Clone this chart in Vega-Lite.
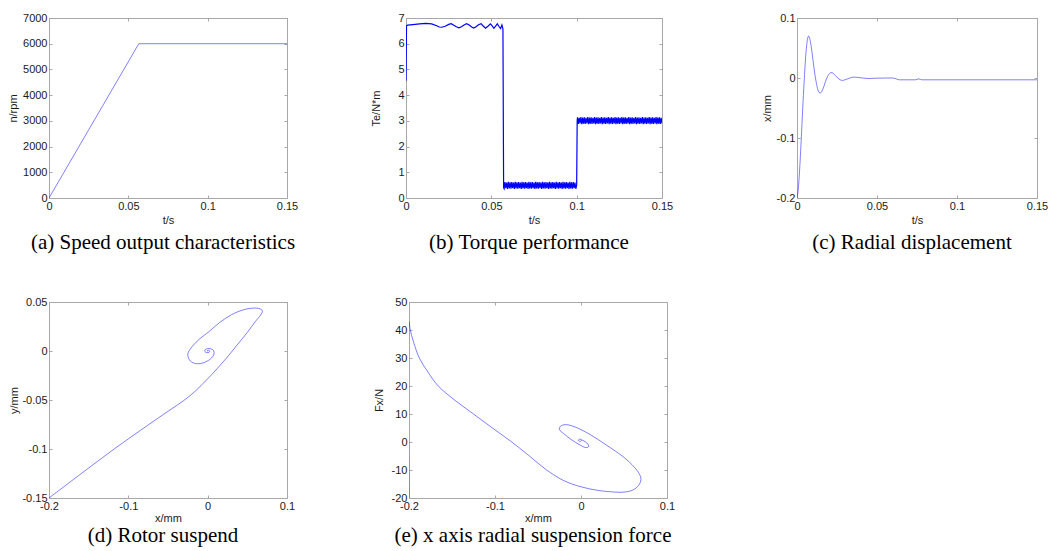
{
"$schema": "https://vega.github.io/schema/vega-lite/v6.json",
"autosize": {"type": "pad"},
"padding": {"left": 6, "top": 11, "right": 5, "bottom": 5},
"background": "white",
"config": {
  "view": {"stroke": "#a8a8a8", "strokeWidth": 1},
  "axis": {"grid": false, "domain": false, "tickColor": "#a8a8a8", "tickSize": -3, "tickWidth": 1, "labelFont": "Liberation Sans", "labelFontSize": 11, "labelColor": "#1a1a1a", "labelPadding": 5, "labelFlush": false, "labelOverlap": false, "labelBound": false, "titleFont": "Liberation Sans", "titleFontSize": 11, "titleFontWeight": "normal", "titleColor": "#1a1a1a"},
  "title": {"font": "Liberation Serif", "fontSize": 21, "fontWeight": "normal", "color": "#000000", "orient": "bottom", "frame": "group", "anchor": "middle", "baseline": "alphabetic", "dx": -5}
},
"datasets": {
  "a": [{"t":0,"n":0},{"t":0.0566,"n":6000},{"t":0.15,"n":6000}],
  "b": [{"t":0,"v":4.56},{"t":0.0003,"v":6.7},{"t":0.001,"v":6.72},{"t":0.004,"v":6.74},{"t":0.008,"v":6.77},{"t":0.0115,"v":6.79},{"t":0.015,"v":6.77},{"t":0.018,"v":6.7},{"t":0.0195,"v":6.65},{"t":0.021,"v":6.64},{"t":0.023,"v":6.68},{"t":0.025,"v":6.75},{"t":0.0265,"v":6.78},{"t":0.028,"v":6.72},{"t":0.0295,"v":6.66},{"t":0.031,"v":6.62},{"t":0.0325,"v":6.66},{"t":0.034,"v":6.73},{"t":0.0355,"v":6.78},{"t":0.037,"v":6.73},{"t":0.0385,"v":6.65},{"t":0.0397,"v":6.61},{"t":0.041,"v":6.66},{"t":0.0425,"v":6.74},{"t":0.044,"v":6.78},{"t":0.0452,"v":6.69},{"t":0.0466,"v":6.6},{"t":0.048,"v":6.68},{"t":0.0495,"v":6.77},{"t":0.0505,"v":6.69},{"t":0.0515,"v":6.6},{"t":0.0525,"v":6.68},{"t":0.0535,"v":6.77},{"t":0.0545,"v":6.67},{"t":0.0554,"v":6.59},{"t":0.0562,"v":6.73},{"t":0.0568,"v":6.58},{"t":0.0572,"v":0.4},
    {"t":0.0575,"v":0.36},{"t":0.058,"v":0.62},{"t":0.0585,"v":0.38},{"t":0.059,"v":0.6},{"t":0.0595,"v":0.35},{"t":0.06,"v":0.63},{"t":0.0605,"v":0.37},{"t":0.061,"v":0.61},{"t":0.0615,"v":0.36},{"t":0.062,"v":0.62},{"t":0.0625,"v":0.38},{"t":0.063,"v":0.6},{"t":0.0635,"v":0.35},{"t":0.064,"v":0.63},{"t":0.0645,"v":0.37},{"t":0.065,"v":0.61},{"t":0.0655,"v":0.36},{"t":0.066,"v":0.62},{"t":0.0665,"v":0.38},{"t":0.067,"v":0.6},{"t":0.0675,"v":0.35},{"t":0.068,"v":0.63},{"t":0.0685,"v":0.37},{"t":0.069,"v":0.61},{"t":0.0695,"v":0.36},{"t":0.07,"v":0.62},{"t":0.0705,"v":0.38},{"t":0.071,"v":0.6},{"t":0.0715,"v":0.35},{"t":0.072,"v":0.63},{"t":0.0725,"v":0.37},{"t":0.073,"v":0.61},{"t":0.0735,"v":0.36},{"t":0.074,"v":0.62},{"t":0.0745,"v":0.38},{"t":0.075,"v":0.6},{"t":0.0755,"v":0.35},{"t":0.076,"v":0.63},{"t":0.0765,"v":0.37},{"t":0.077,"v":0.61},{"t":0.0775,"v":0.36},{"t":0.078,"v":0.62},{"t":0.0785,"v":0.38},{"t":0.079,"v":0.6},{"t":0.0795,"v":0.35},{"t":0.08,"v":0.63},{"t":0.0805,"v":0.37},{"t":0.081,"v":0.61},{"t":0.0815,"v":0.36},{"t":0.082,"v":0.62},{"t":0.0825,"v":0.38},{"t":0.083,"v":0.6},{"t":0.0835,"v":0.35},{"t":0.084,"v":0.63},{"t":0.0845,"v":0.37},{"t":0.085,"v":0.61},{"t":0.0855,"v":0.36},{"t":0.086,"v":0.62},{"t":0.0865,"v":0.38},{"t":0.087,"v":0.6},{"t":0.0875,"v":0.35},{"t":0.088,"v":0.63},{"t":0.0885,"v":0.37},{"t":0.089,"v":0.61},{"t":0.0895,"v":0.36},{"t":0.09,"v":0.62},{"t":0.0905,"v":0.38},{"t":0.091,"v":0.6},{"t":0.0915,"v":0.35},{"t":0.092,"v":0.63},{"t":0.0925,"v":0.37},{"t":0.093,"v":0.61},{"t":0.0935,"v":0.36},{"t":0.094,"v":0.62},{"t":0.0945,"v":0.38},{"t":0.095,"v":0.6},{"t":0.0955,"v":0.35},{"t":0.096,"v":0.63},{"t":0.0965,"v":0.37},{"t":0.097,"v":0.61},{"t":0.0975,"v":0.36},{"t":0.098,"v":0.62},{"t":0.0985,"v":0.38},{"t":0.099,"v":0.6},{"t":0.0995,"v":0.36},{"t":0.1,"v":0.5},{"t":0.1003,"v":3.0},
    {"t":0.1005,"v":3.14},{"t":0.101,"v":2.88},{"t":0.1015,"v":3.12},{"t":0.102,"v":2.9},{"t":0.1025,"v":3.15},{"t":0.103,"v":2.87},{"t":0.1035,"v":3.13},{"t":0.104,"v":2.89},{"t":0.1045,"v":3.14},{"t":0.105,"v":2.88},{"t":0.1055,"v":3.12},{"t":0.106,"v":2.9},{"t":0.1065,"v":3.15},{"t":0.107,"v":2.87},{"t":0.1075,"v":3.13},{"t":0.108,"v":2.89},{"t":0.1085,"v":3.14},{"t":0.109,"v":2.88},{"t":0.1095,"v":3.12},{"t":0.11,"v":2.9},{"t":0.1105,"v":3.15},{"t":0.111,"v":2.87},{"t":0.1115,"v":3.13},{"t":0.112,"v":2.89},{"t":0.1125,"v":3.14},{"t":0.113,"v":2.88},{"t":0.1135,"v":3.12},{"t":0.114,"v":2.9},{"t":0.1145,"v":3.15},{"t":0.115,"v":2.87},{"t":0.1155,"v":3.13},{"t":0.116,"v":2.89},{"t":0.1165,"v":3.14},{"t":0.117,"v":2.88},{"t":0.1175,"v":3.12},{"t":0.118,"v":2.9},{"t":0.1185,"v":3.15},{"t":0.119,"v":2.87},{"t":0.1195,"v":3.13},{"t":0.12,"v":2.89},{"t":0.1205,"v":3.14},{"t":0.121,"v":2.88},{"t":0.1215,"v":3.12},{"t":0.122,"v":2.9},{"t":0.1225,"v":3.15},{"t":0.123,"v":2.87},{"t":0.1235,"v":3.13},{"t":0.124,"v":2.89},{"t":0.1245,"v":3.14},{"t":0.125,"v":2.88},{"t":0.1255,"v":3.12},{"t":0.126,"v":2.9},{"t":0.1265,"v":3.15},{"t":0.127,"v":2.87},{"t":0.1275,"v":3.13},{"t":0.128,"v":2.89},{"t":0.1285,"v":3.14},{"t":0.129,"v":2.88},{"t":0.1295,"v":3.12},{"t":0.13,"v":2.9},{"t":0.1305,"v":3.15},{"t":0.131,"v":2.87},{"t":0.1315,"v":3.13},{"t":0.132,"v":2.89},{"t":0.1325,"v":3.14},{"t":0.133,"v":2.88},{"t":0.1335,"v":3.12},{"t":0.134,"v":2.9},{"t":0.1345,"v":3.15},{"t":0.135,"v":2.87},{"t":0.1355,"v":3.13},{"t":0.136,"v":2.89},{"t":0.1365,"v":3.14},{"t":0.137,"v":2.88},{"t":0.1375,"v":3.12},{"t":0.138,"v":2.9},{"t":0.1385,"v":3.15},{"t":0.139,"v":2.87},{"t":0.1395,"v":3.13},{"t":0.14,"v":2.89},{"t":0.1405,"v":3.14},{"t":0.141,"v":2.88},{"t":0.1415,"v":3.12},{"t":0.142,"v":2.9},{"t":0.1425,"v":3.15},{"t":0.143,"v":2.87},{"t":0.1435,"v":3.13},{"t":0.144,"v":2.89},{"t":0.1445,"v":3.14},{"t":0.145,"v":2.88},{"t":0.1455,"v":3.12},{"t":0.146,"v":2.9},{"t":0.1465,"v":3.15},{"t":0.147,"v":2.87},{"t":0.1475,"v":3.13},{"t":0.148,"v":2.89},{"t":0.1485,"v":3.14},{"t":0.149,"v":2.88},{"t":0.1495,"v":3.12},{"t":0.15,"v":2.9}],
  "c": [{"t":0,"x":-0.2},{"t":0.0008,"x":-0.185},{"t":0.0016,"x":-0.155},{"t":0.0025,"x":-0.11},{"t":0.0035,"x":-0.055},{"t":0.0045,"x":-0.005},{"t":0.0054,"x":0.035},{"t":0.0062,"x":0.058},{"t":0.0068,"x":0.068},{"t":0.0073,"x":0.07},{"t":0.0079,"x":0.066},{"t":0.0088,"x":0.054},{"t":0.0098,"x":0.034},{"t":0.0108,"x":0.013},{"t":0.0118,"x":-0.004},{"t":0.0128,"x":-0.017},{"t":0.0138,"x":-0.024},{"t":0.0146,"x":-0.025},{"t":0.0156,"x":-0.022},{"t":0.0168,"x":-0.014},{"t":0.0178,"x":-0.006},{"t":0.0188,"x":0.001},{"t":0.0199,"x":0.006},{"t":0.0213,"x":0.009},{"t":0.0225,"x":0.008},{"t":0.024,"x":0.004},{"t":0.0255,"x":0.0},{"t":0.027,"x":-0.003},{"t":0.0283,"x":-0.004},{"t":0.03,"x":-0.003},{"t":0.032,"x":-0.001},{"t":0.034,"x":0.0008},{"t":0.036,"x":0.0015},{"t":0.038,"x":0.001},{"t":0.041,"x":0.0},{"t":0.045,"x":-0.0008},{"t":0.05,"x":-0.0003},{"t":0.056,"x":0.0},{"t":0.06,"x":0.0},{"t":0.062,"x":-0.0015},{"t":0.064,"x":-0.003},{"t":0.07,"x":-0.003},{"t":0.074,"x":-0.003},{"t":0.076,"x":-0.0015},{"t":0.078,"x":-0.003},{"t":0.09,"x":-0.003},{"t":0.15,"x":-0.003}],
  "d": [{"i":0,"x":-0.2,"y":-0.15},{"i":1,"x":-0.16,"y":-0.1255},{"i":2,"x":-0.117,"y":-0.0995},{"i":3,"x":-0.075,"y":-0.0755},{"i":4,"x":-0.05,"y":-0.0615},{"i":5,"x":-0.03,"y":-0.0505},{"i":6,"x":-0.015,"y":-0.0405},{"i":7,"x":-0.002,"y":-0.03},{"i":8,"x":0.012,"y":-0.018},{"i":9,"x":0.025,"y":-0.006},{"i":10,"x":0.038,"y":0.007},{"i":11,"x":0.05,"y":0.019},{"i":12,"x":0.06,"y":0.03},{"i":13,"x":0.067,"y":0.037},{"i":14,"x":0.069,"y":0.041},{"i":15,"x":0.066,"y":0.043},{"i":16,"x":0.058,"y":0.0438},{"i":17,"x":0.045,"y":0.042},{"i":18,"x":0.03,"y":0.037},{"i":19,"x":0.015,"y":0.029},{"i":20,"x":0.002,"y":0.02},{"i":21,"x":-0.012,"y":0.011},{"i":22,"x":-0.021,"y":0.003},{"i":23,"x":-0.025,"y":-0.003},{"i":24,"x":-0.023,"y":-0.009},{"i":25,"x":-0.017,"y":-0.0125},{"i":26,"x":-0.009,"y":-0.0128},{"i":27,"x":-0.001,"y":-0.0105},{"i":28,"x":0.005,"y":-0.007},{"i":29,"x":0.008,"y":-0.003},{"i":30,"x":0.0075,"y":0.0005},{"i":31,"x":0.004,"y":0.0022},{"i":32,"x":0.0,"y":0.0025},{"i":33,"x":-0.003,"y":0.0015},{"i":34,"x":-0.0035,"y":-0.0005},{"i":35,"x":-0.001,"y":-0.0017},{"i":36,"x":0.002,"y":-0.0012},{"i":37,"x":0.0025,"y":0.0002},{"i":38,"x":0.0008,"y":0.0008},{"i":39,"x":-0.0008,"y":0.0002},{"i":40,"x":0.0,"y":-0.0002}],
  "e": [{"i":0,"x":-0.2,"f":-20},{"i":1,"x":-0.2,"f":43},{"i":2,"x":-0.1985,"f":40},{"i":3,"x":-0.195,"f":36},{"i":4,"x":-0.188,"f":30},{"i":5,"x":-0.178,"f":25},{"i":6,"x":-0.166,"f":20},{"i":7,"x":-0.147,"f":15},{"i":8,"x":-0.125,"f":10},{"i":9,"x":-0.103,"f":5},{"i":10,"x":-0.0805,"f":0},{"i":11,"x":-0.06,"f":-5},{"i":12,"x":-0.04,"f":-10},{"i":13,"x":-0.02,"f":-13.8},{"i":14,"x":0.0,"f":-16},{"i":15,"x":0.02,"f":-17.3},{"i":16,"x":0.04,"f":-17.9},{"i":17,"x":0.05,"f":-17.9},{"i":18,"x":0.06,"f":-17.2},{"i":19,"x":0.067,"f":-15.5},{"i":20,"x":0.0697,"f":-13.4},{"i":21,"x":0.068,"f":-11.5},{"i":22,"x":0.062,"f":-9},{"i":23,"x":0.05,"f":-5.5},{"i":24,"x":0.03,"f":-1.2},{"i":25,"x":0.011,"f":2.6},{"i":26,"x":-0.008,"f":5.5},{"i":27,"x":-0.018,"f":6.2},{"i":28,"x":-0.024,"f":5.6},{"i":29,"x":-0.025,"f":4.4},{"i":30,"x":-0.02,"f":3},{"i":31,"x":-0.012,"f":1},{"i":32,"x":-0.001,"f":-1.1},{"i":33,"x":0.006,"f":-2},{"i":34,"x":0.009,"f":-1.6},{"i":35,"x":0.007,"f":-0.4},{"i":36,"x":0.002,"f":0.6},{"i":37,"x":-0.002,"f":1},{"i":38,"x":-0.003,"f":0.6},{"i":39,"x":-0.001,"f":0.2},{"i":40,"x":0.001,"f":0.6}]
},
"vconcat": [
  {"hconcat": [
    {"hconcat": [
      {"width": 238, "height": 180, "data": {"name": "a"},
       "title": {"text": "(a) Speed output characteristics", "offset": 7},
       "layer": [
         {"mark": {"type": "line", "color": "#0000ff", "strokeWidth": 0.5, "clip": true},
          "encoding": {
            "x": {"field": "t", "type": "quantitative", "scale": {"domain": [0, 0.15], "nice": false, "zero": false}, "axis": {"values": [0, 0.05, 0.1, 0.15], "labelExpr": "'' + datum.value", "title": "t/s", "titleY": 16}},
            "y": {"field": "n", "type": "quantitative", "scale": {"domain": [0, 7000], "nice": false, "zero": false}, "axis": {"values": [0, 1000, 2000, 3000, 4000, 5000, 6000, 7000], "labelExpr": "'' + datum.value", "title": "n/rpm", "titleX": -31}}}},
         {"mark": {"type": "line", "opacity": 0},
          "encoding": {
            "x": {"field": "t", "type": "quantitative", "axis": {"orient": "top", "values": [0, 0.05, 0.1, 0.15], "labels": false, "title": null}},
            "y": {"field": "n", "type": "quantitative", "axis": {"orient": "right", "values": [0, 1000, 2000, 3000, 4000, 5000, 6000, 7000], "labels": false, "title": null}}}}
       ],
       "resolve": {"axis": {"x": "independent", "y": "independent"}}},
      {"width": 256, "height": 180, "data": {"name": "b"},
       "title": {"text": "(b) Torque performance", "offset": 7},
       "layer": [
         {"mark": {"type": "line", "color": "#0000ff", "strokeWidth": 1.2, "clip": true},
          "encoding": {
            "x": {"field": "t", "type": "quantitative", "scale": {"domain": [0, 0.15], "nice": false, "zero": false}, "axis": {"values": [0, 0.05, 0.1, 0.15], "labelExpr": "'' + datum.value", "title": "t/s", "titleY": 16}},
            "y": {"field": "v", "type": "quantitative", "scale": {"domain": [0, 7], "nice": false, "zero": false}, "axis": {"values": [0, 1, 2, 3, 4, 5, 6, 7], "labelExpr": "'' + datum.value", "title": "Te/N*m", "titleX": -25}}}},
         {"mark": {"type": "line", "opacity": 0},
          "encoding": {
            "x": {"field": "t", "type": "quantitative", "axis": {"orient": "top", "values": [0, 0.05, 0.1, 0.15], "labels": false, "title": null}},
            "y": {"field": "v", "type": "quantitative", "axis": {"orient": "right", "values": [0, 1, 2, 3, 4, 5, 6, 7], "labels": false, "title": null}}}}
       ],
       "resolve": {"axis": {"x": "independent", "y": "independent"}}}
    ], "spacing": 119, "bounds": "flush"},
    {"width": 240, "height": 180, "data": {"name": "c"},
     "title": {"text": "(c) Radial displacement", "offset": 7},
     "layer": [
       {"mark": {"type": "line", "color": "#0000ff", "strokeWidth": 0.5, "clip": true, "interpolate": "monotone"},
        "encoding": {
          "x": {"field": "t", "type": "quantitative", "scale": {"domain": [0, 0.15], "nice": false, "zero": false}, "axis": {"values": [0, 0.05, 0.1, 0.15], "labelExpr": "'' + datum.value", "title": "t/s", "titleY": 16}},
          "y": {"field": "x", "type": "quantitative", "scale": {"domain": [-0.2, 0.1], "nice": false, "zero": false}, "axis": {"values": [-0.2, -0.1, 0, 0.1], "labelExpr": "'' + datum.value", "title": "x/mm", "titleX": -25}}}},
       {"mark": {"type": "line", "opacity": 0},
        "encoding": {
          "x": {"field": "t", "type": "quantitative", "axis": {"orient": "top", "values": [0, 0.05, 0.1, 0.15], "labels": false, "title": null}},
          "y": {"field": "x", "type": "quantitative", "axis": {"orient": "right", "values": [-0.2, -0.1, 0, 0.1], "labels": false, "title": null}}}}
     ],
     "resolve": {"axis": {"x": "independent", "y": "independent"}}}
  ], "spacing": 86},
  {"hconcat": [
    {"width": 238, "height": 196, "data": {"name": "d"},
     "title": {"text": "(d) Rotor suspend", "offset": 2},
     "layer": [
       {"mark": {"type": "line", "color": "#0000ff", "strokeWidth": 0.5, "clip": true, "interpolate": "catmull-rom"},
        "encoding": {
          "x": {"field": "x", "type": "quantitative", "scale": {"domain": [-0.2, 0.1], "nice": false, "zero": false}, "axis": {"values": [-0.2, -0.1, 0, 0.1], "labelExpr": "'' + datum.value", "title": "x/mm", "titleY": 14}},
          "y": {"field": "y", "type": "quantitative", "scale": {"domain": [-0.15, 0.05], "nice": false, "zero": false}, "axis": {"values": [-0.15, -0.1, -0.05, 0, 0.05], "labelExpr": "'' + datum.value", "title": "y/mm", "titleX": -30}},
          "order": {"field": "i", "type": "quantitative"}}},
       {"mark": {"type": "line", "opacity": 0},
        "encoding": {
          "x": {"field": "x", "type": "quantitative", "axis": {"orient": "top", "values": [-0.2, -0.1, 0, 0.1], "labels": false, "title": null}},
          "y": {"field": "y", "type": "quantitative", "axis": {"orient": "right", "values": [-0.15, -0.1, -0.05, 0, 0.05], "labels": false, "title": null}},
          "order": {"field": "i", "type": "quantitative"}}}
     ],
     "resolve": {"axis": {"x": "independent", "y": "independent"}}},
    {"width": 258, "height": 196, "data": {"name": "e"},
     "title": {"text": "(e) x axis radial suspension force", "offset": 2},
     "layer": [
       {"mark": {"type": "line", "color": "#0000ff", "strokeWidth": 0.5, "clip": true, "interpolate": "catmull-rom"},
        "encoding": {
          "x": {"field": "x", "type": "quantitative", "scale": {"domain": [-0.2, 0.1], "nice": false, "zero": false}, "axis": {"values": [-0.2, -0.1, 0, 0.1], "labelExpr": "'' + datum.value", "title": "x/mm", "titleY": 14}},
          "y": {"field": "f", "type": "quantitative", "scale": {"domain": [-20, 50], "nice": false, "zero": false}, "axis": {"values": [-20, -10, 0, 10, 20, 30, 40, 50], "labelExpr": "'' + datum.value", "title": "Fx/N", "titleX": -25}},
          "order": {"field": "i", "type": "quantitative"}}},
       {"mark": {"type": "line", "opacity": 0},
        "encoding": {
          "x": {"field": "x", "type": "quantitative", "axis": {"orient": "top", "values": [-0.2, -0.1, 0, 0.1], "labels": false, "title": null}},
          "y": {"field": "f", "type": "quantitative", "axis": {"orient": "right", "values": [-20, -10, 0, 10, 20, 30, 40, 50], "labels": false, "title": null}},
          "order": {"field": "i", "type": "quantitative"}}}
     ],
     "resolve": {"axis": {"x": "independent", "y": "independent"}}}
  ], "spacing": 122, "bounds": "flush"}
],
"spacing": 41
}
